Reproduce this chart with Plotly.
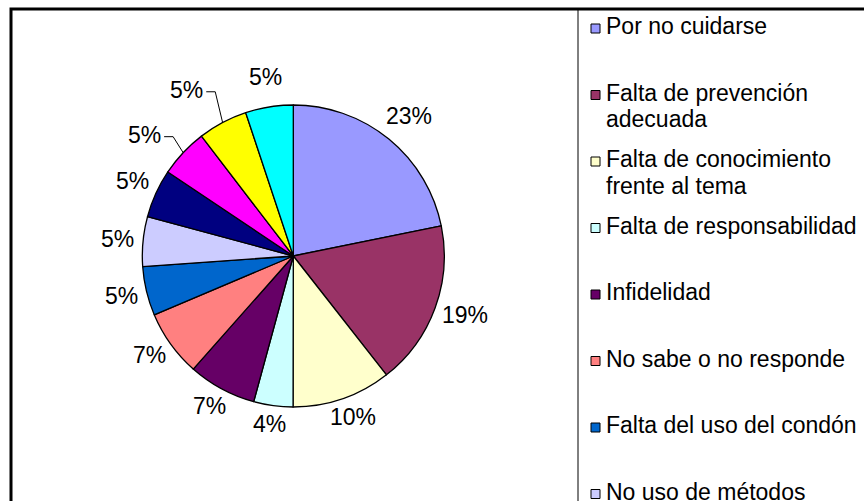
import math
import plotly.graph_objects as go

# ---- Data (slice shares; printed labels as shown) ----
categories = [
    "Por no cuidarse",
    "Falta de prevención<br>adecuada",
    "Falta de conocimiento<br>frente al tema",
    "Falta de responsabilidad",
    "Infidelidad",
    "No sabe o no responde",
    "Falta del uso del condón",
    "No uso de métodos<br>anticonceptivos",
    "Categoría 9",
    "Categoría 10",
    "Categoría 11",
    "Categoría 12",
]
values = [21.8, 17.6, 10.6, 4.2, 7.3, 7.1, 5.25, 5.3, 5.2, 5.2, 5.3, 5.1]
pct_labels = ["23%", "19%", "10%", "4%", "7%", "7%", "5%", "5%", "5%", "5%", "5%", "5%"]
colors = ["#9999FF", "#993366", "#FFFFCC", "#CCFFFF", "#660066", "#FF8080",
          "#0066CC", "#CCCCFF", "#000080", "#FF00FF", "#FFFF00", "#00FFFF"]

# ---- Layout constants (page pixels) ----
W, H = 864, 501
FONT = "Liberation Sans, Arial, sans-serif"
FS = 23
CX, CY, R = 293.3, 256.0, 151.0       # pie centre / radius on the page
GAP = 9.0                              # gap between pie edge and label box
HALF_H_TOP, HALF_H_BOT = 21.0, 10.0    # label box half heights (upper / lower half)
LEADER_SHIFT = {9: (-20, -5), 10: (-24, -16)}   # labels moved out, with leader lines
CHAR_W = {"%": 0.889}                  # Arial advance widths (em); digits 0.556


def px(x):
    return x / W


def py(y):
    return 1 - y / H


def text_w(t):
    return sum(CHAR_W.get(c, 0.556) for c in t) * FS


fig = go.Figure()
fig.add_trace(go.Pie(
    labels=categories,
    values=values,
    textinfo="none",
    marker=dict(colors=colors, line=dict(color="black", width=1.3)),
    sort=False,
    direction="clockwise",
    rotation=0,
    showlegend=False,
    domain=dict(x=[px(CX - R), px(CX + R)], y=[py(CY + R), py(CY - R)]),
    hoverinfo="label+percent",
))

shapes = []
annotations = []

# percentage labels placed outside each slice's mid-angle
total = sum(values)
cum = 0.0
for i, (v, t) in enumerate(zip(values, pct_labels)):
    mid = math.radians((cum + v / 2) / total * 360.0)
    cum += v
    s, c = math.sin(mid), math.cos(mid)
    hw = text_w(t) / 2
    hh = HALF_H_TOP if c > 0 else HALF_H_BOT
    lx = CX + (R + GAP) * s + hw * s
    ly = CY - (R + GAP) * c - hh * c
    if i in LEADER_SHIFT:
        dx, dy = LEADER_SHIFT[i]
        lx, ly = CX + (R + GAP) * s + hw * s + dx, CY - (R + GAP) * c - HALF_H_BOT * c + dy
        ex, ey = CX + R * s, CY - R * c
        sx = lx + hw + 3
        path = f"M {px(sx)} {py(ly + 2)} L {px(sx + 9)} {py(ly + 2)} L {px(ex)} {py(ey)}"
        shapes.append(dict(type="path", xref="paper", yref="paper", path=path,
                           line=dict(color="black", width=1)))
    annotations.append(dict(xref="paper", yref="paper", x=px(lx), y=py(ly),
                            xanchor="center", yanchor="middle", text=t, showarrow=False,
                            font=dict(family=FONT, size=FS, color="black")))

# outer frame
shapes.append(dict(type="rect", xref="paper", yref="paper",
                   x0=px(11), x1=1.05, y0=-0.05, y1=py(9),
                   line=dict(color="black", width=3), fillcolor="rgba(0,0,0,0)"))
# legend separator
shapes.append(dict(type="line", xref="paper", yref="paper",
                   x0=px(578), x1=px(578), y0=-0.05, y1=py(9),
                   line=dict(color="black", width=1)))

# legend box entries
STEP = 66.5
LINE = 27
for i, (name, col) in enumerate(zip(categories, colors)):
    top = 11 + STEP * i
    base = 33 + STEP * i
    shapes.append(dict(type="rect", xref="paper", yref="paper",
                       x0=px(591), x1=px(600), y0=py(base), y1=py(base - 9),
                       fillcolor=col, line=dict(color="black", width=1)))
    for k, line in enumerate(name.split("<br>")):
        annotations.append(dict(xref="paper", yref="paper", x=px(604), y=py(top + LINE * k),
                                xanchor="left", yanchor="top", text=line, showarrow=False,
                                align="left", font=dict(family=FONT, size=FS, color="black")))

fig.update_layout(
    width=W, height=H,
    margin=dict(l=0, r=0, t=0, b=0),
    paper_bgcolor="white", plot_bgcolor="white",
    shapes=shapes, annotations=annotations,
)
fig.write_html(
    "out.html",
    config={"displayModeBar": False},
    post_script="document.body.style.margin='0';"
                "document.documentElement.style.overflow='hidden';"
                "document.body.style.overflow='hidden';",
)
